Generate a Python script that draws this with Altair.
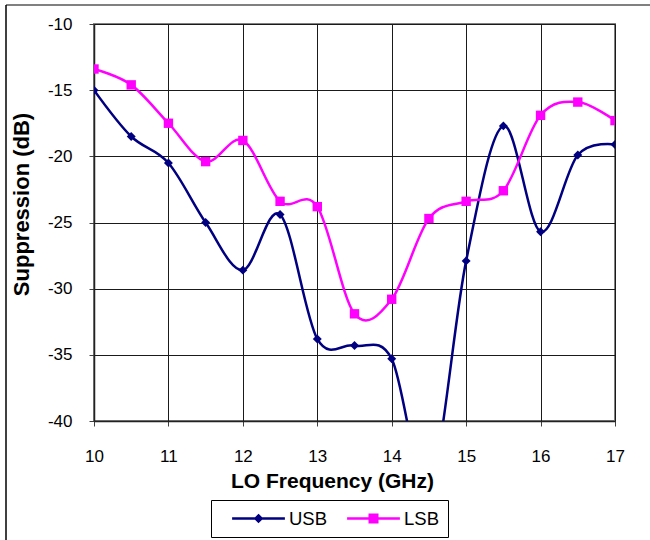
import altair as alt
import pandas as pd

# LO frequency sweep and measured sideband suppression
freq_ghz = [10, 10.5, 11, 11.5, 12, 12.5, 13, 13.5, 14, 14.5, 15, 15.5, 16, 16.5, 17]
usb_db = [-15.0, -18.5, -20.5, -25.0, -28.6, -24.4, -33.8, -34.3, -35.3, -45.0,
          -27.9, -17.7, -25.7, -19.9, -19.1]
lsb_db = [-13.4, -14.6, -17.5, -20.4, -18.8, -23.4, -23.8, -31.9, -30.8, -24.7,
          -23.4, -22.6, -16.9, -15.9, -17.3]

series_names = ["USB", "LSB"]
series_colors = ["#000080", "#FF00FF"]
series_shapes = ["diamond", "square"]
series_sizes = [80, 88]

x_ticks = [10, 11, 12, 13, 14, 15, 16, 17]
y_ticks = [-40, -35, -30, -25, -20, -15, -10]

rows = []
for name, vals in zip(series_names, [usb_db, lsb_db]):
    for f, v in zip(freq_ghz, vals):
        rows.append({"freq": f, "db": v, "series": name})
df = pd.DataFrame(rows)

FONT = "Liberation Sans"
W, H = 521, 397

# legend glyphs: a short line with the series marker (drawn as nested rings) in its middle
usb_glyph = ("M-3.3,0H3.3"
             "M0,-0.38L0.38,0L0,0.38L-0.38,0Z"
             "M0,-0.15L0.15,0L0,0.15L-0.15,0Z")
lsb_glyph = ("M-3.3,0H3.3"
             "M-0.47,-0.47H0.47V0.47H-0.47Z"
             "M-0.16,-0.16H0.16V0.16H-0.16Z")

color_scale = alt.Scale(domain=series_names, range=series_colors)
glyph_scale = alt.Scale(domain=series_names, range=[usb_glyph, lsb_glyph])

legend = alt.Legend(
    title=None,
    orient="none",
    legendX=117,
    legendY=476,
    direction="horizontal",
    labelFont=FONT,
    labelFontSize=18.5,
    labelColor="#000",
    symbolSize=256,
    symbolStrokeWidth=2.5,
    symbolOpacity=1,
    symbolOffset=29,
    labelOffset=21,
    columnPadding=7,
    padding=9,
    strokeColor="#000",
    fillColor="#fff",
)

x_enc = alt.X(
    "freq:Q",
    scale=alt.Scale(domain=[10, 17], nice=False, zero=False),
    axis=alt.Axis(
        values=x_ticks, labelExpr="datum.value + ''", labelFlush=False,
        title="LO Frequency (GHz)", titleX=238, titlePadding=6, labelPadding=22,
        titleFontSize=21,
    ),
)
y_enc = alt.Y(
    "db:Q",
    scale=alt.Scale(domain=[-40, -10], nice=False, zero=False),
    axis=alt.Axis(
        values=y_ticks, labelExpr="datum.value + ''", labelFlush=False,
        title="Suppression (dB)", titlePadding=13.5, labelPadding=17,
        titleFontSize=22, titleY=180,
    ),
)

base = alt.Chart(df)

series_layers = []
for name, col, shp, sz in zip(series_names, series_colors, series_shapes, series_sizes):
    sub = base.transform_filter(alt.datum.series == name)
    series_layers.append(
        sub.mark_line(interpolate="cardinal", strokeWidth=2.5, color=col, clip=True)
        .encode(x=x_enc, y=y_enc)
    )
    series_layers.append(
        sub.mark_point(filled=True, shape=shp, size=sz, opacity=1, color=col, clip=True)
        .encode(x="freq:Q", y="db:Q")
    )

# invisible layer that carries the series key
key = base.mark_point(filled=False, opacity=0, clip=True).encode(
    x="freq:Q",
    y="db:Q",
    color=alt.Color("series:N", scale=color_scale, legend=legend),
    shape=alt.Shape("series:N", scale=glyph_scale, legend=legend),
)

# outer frame around the whole figure
frame_src = alt.Data(values=[{"k": 0}])
frame_top = alt.Chart(frame_src).mark_rule(color="#808080", strokeWidth=2).encode(
    x=alt.value(-88), x2=alt.value(W + 60), y=alt.value(-19)
)
frame_left = alt.Chart(frame_src).mark_rule(color="#000", strokeWidth=1.5).encode(
    x=alt.value(-88), y=alt.value(-19), y2=alt.value(H + 140)
)

chart = (
    alt.layer(frame_top, frame_left, *series_layers, key)
    .properties(
        width=W,
        height=H,
        background="#ffffff",
        autosize=alt.AutoSizeParams(type="none"),
        padding={"left": 94, "top": 24, "right": 35, "bottom": 119},
    )
    .configure_view(stroke="#808080", strokeWidth=2)
    .configure_axis(
        labelFont=FONT,
        labelFontSize=17,
        labelColor="#000",
        titleFont=FONT,
        titleFontWeight="bold",
        titleColor="#000",
        grid=True,
        gridColor="#1a1a1a",
        gridWidth=1,
        domainColor="#222",
        domainWidth=1.5,
        tickColor="#404040",
        tickSize=5,
        tickWidth=1,
    )
)

chart.save("out.html", embed_options={"renderer": "svg", "actions": False})
